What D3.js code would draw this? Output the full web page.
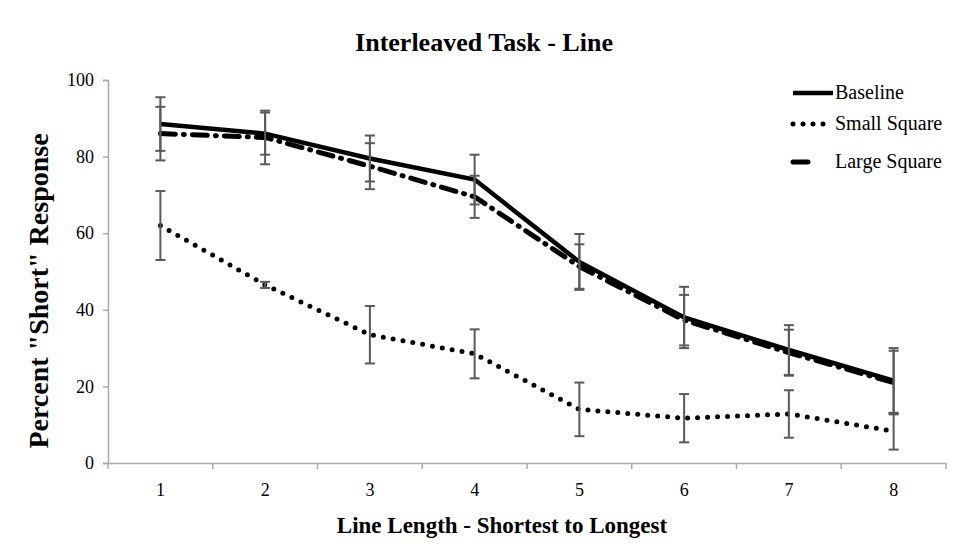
<!DOCTYPE html>
<html lang="en">
<head>
<meta charset="UTF-8">
<style>
  body { margin: 0; background: #fff; }
  text { font-family: "Liberation Serif", "Times New Roman", serif; fill: #000; }
</style>
</head>
<body>
<script src="https://d3js.org/d3.v7.min.js"></script>
<script>
// data
var categories = ["1", "2", "3", "4", "5", "6", "7", "8"];
var baseline = [88.5, 86, 79.5, 74, 52.5, 38, 29.5, 21.5];
var baselineErr = [7, 5.5, 6, 6.5, 7.3, 8, 6.5, 8.5];
var smallSquare = [62, 46.5, 33.5, 28.5, 14, 11.7, 12.8, 8.3];
var smallErr = [9, 0.8, 7.5, 6.4, 7, 6.3, 6.2, 4.8];
var largeSquare = [86, 85, 77.5, 69.5, 51.3, 37.3, 28.8, 21];
var largeErr = [7, 7, 6, 5.5, 5.8, 6.6, 6, 8.3];
var yTicks = [0, 20, 40, 60, 80, 100];

var width = 956, height = 556;
// plot box (window.top is reserved, so other names)
var plotLeft = 108, plotRight = 946, plotTop = 80, plotBottom = 463;

var svg = d3.select("body").append("svg")
    .attr("width", width)
    .attr("height", height);

var x = d3.scaleBand().domain(categories).range([plotLeft, plotRight]);
var y = d3.scaleLinear().domain([0, 100]).range([plotBottom, plotTop]);
function cx(i) { return x(categories[i]) + x.bandwidth() / 2; }

// axes
var yAxis = svg.append("g")
    .attr("transform", "translate(" + plotLeft + ",0)")
    .call(d3.axisLeft(y).tickValues(yTicks).tickSize(5).tickPadding(9));
var xAxis = svg.append("g")
    .attr("transform", "translate(0," + plotBottom + ")")
    .call(d3.axisBottom(x).tickSize(0).tickPadding(20));
[yAxis, xAxis].forEach(function(g) {
    g.select(".domain").attr("stroke", "#aaa").attr("stroke-width", 1.5);
    g.selectAll(".tick line").attr("stroke", "#aaa").attr("stroke-width", 1.5);
    g.selectAll(".tick text").attr("font-size", 18).attr("font-family", "Liberation Serif").attr("fill", "#000");
});

// category boundary ticks on x axis
var seps = categories.map(function(c) { return x(c); }).concat([plotRight]);
xAxis.selectAll(".sep")
    .data(seps)
    .enter().append("line")
    .attr("x1", function(d) { return d; })
    .attr("x2", function(d) { return d; })
    .attr("y1", 0).attr("y2", 6)
    .attr("stroke", "#aaa").attr("stroke-width", 1.5);

var series = [
    { name: "Baseline", values: baseline, err: baselineErr, width: 4.5, dash: null, cap: "butt" },
    { name: "Small Square", values: smallSquare, err: smallErr, width: 5, dash: "0 10", cap: "round" },
    { name: "Large Square", values: largeSquare, err: largeErr, width: 5, dash: "15 8 1 8", cap: "round" }
];

var line = d3.line()
    .x(function(d, i) { return cx(i); })
    .y(function(d) { return y(d); });

series.forEach(function(s) {
    svg.append("path")
        .datum(s.values)
        .attr("d", line)
        .attr("fill", "none")
        .attr("stroke", "#000")
        .attr("stroke-width", s.width)
        .attr("stroke-linecap", s.cap)
        .attr("stroke-dasharray", s.dash);
});

// error bars
series.forEach(function(s) {
    var g = svg.append("g").attr("stroke", "#5a5a5a").attr("stroke-width", 2);
    s.values.forEach(function(v, i) {
        var lo = y(v - s.err[i]), hi = y(v + s.err[i]), xc = cx(i);
        g.append("line").attr("x1", xc).attr("x2", xc).attr("y1", lo).attr("y2", hi);
        g.append("line").attr("x1", xc - 5).attr("x2", xc + 5).attr("y1", lo).attr("y2", lo);
        g.append("line").attr("x1", xc - 5).attr("x2", xc + 5).attr("y1", hi).attr("y2", hi);
    });
});

// legend
var legend = svg.append("g");
var legendY = [93, 124, 162];
var legendLen = [40, 38, 20];
series.forEach(function(s, i) {
    legend.append("line")
        .attr("x1", 793).attr("x2", 793 + legendLen[i])
        .attr("y1", legendY[i]).attr("y2", legendY[i])
        .attr("stroke", "#000")
        .attr("stroke-width", s.width)
        .attr("stroke-linecap", s.cap)
        .attr("stroke-dasharray", s.dash);
    legend.append("text")
        .attr("x", 835).attr("y", legendY[i] + 6)
        .attr("font-size", 20)
        .text(s.name);
});

// titles
svg.append("text")
    .attr("x", 484).attr("y", 51)
    .attr("text-anchor", "middle")
    .attr("font-size", 26).attr("font-weight", "bold")
    .text("Interleaved Task - Line");

svg.append("text")
    .attr("x", 502).attr("y", 533)
    .attr("text-anchor", "middle")
    .attr("font-size", 23).attr("font-weight", "bold")
    .text("Line Length - Shortest to Longest");

svg.append("text")
    .attr("transform", "translate(48,291) rotate(-90)")
    .attr("text-anchor", "middle")
    .attr("font-size", 28).attr("font-weight", "bold")
    .text("Percent \"Short\" Response");
</script>
</body>
</html>
